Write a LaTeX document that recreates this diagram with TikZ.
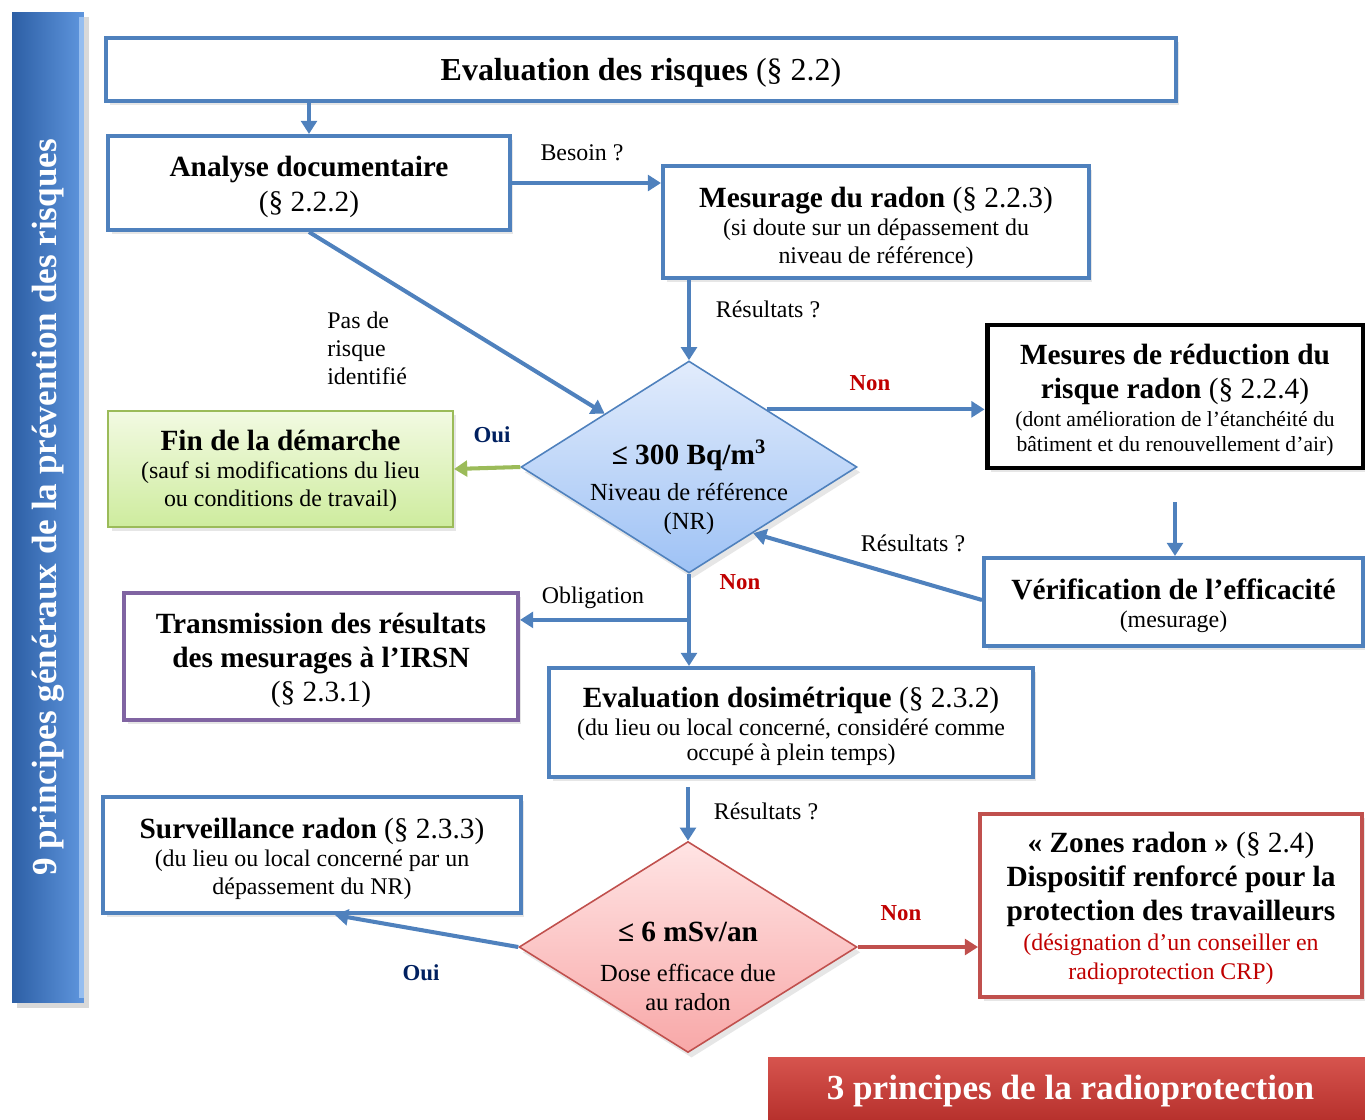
\documentclass[tikz,border=0pt]{standalone}
\usepackage{fontspec}
\setmainfont{Liberation Serif}
\usetikzlibrary{arrows.meta,shapes.geometric,shadows,calc}
\definecolor{bblue}{RGB}{79,129,189}
\definecolor{bgreen}{RGB}{155,187,89}
\definecolor{bpurple}{RGB}{128,100,162}
\definecolor{bred}{RGB}{192,80,77}
\definecolor{nonred}{RGB}{192,0,0}
\definecolor{ouiblue}{RGB}{0,32,96}
\definecolor{banL}{RGB}{45,95,165}
\definecolor{banM}{RGB}{70,125,200}
\definecolor{banR}{RGB}{95,150,222}
\definecolor{banE}{RGB}{150,190,240}
\definecolor{rbanT}{RGB}{214,84,78}
\definecolor{rbanM}{RGB}{200,62,57}
\definecolor{rbanB}{RGB}{180,46,42}
\definecolor{d1top}{RGB}{226,236,252}
\definecolor{d1bot}{RGB}{158,194,245}
\definecolor{d2top}{RGB}{255,228,228}
\definecolor{d2bot}{RGB}{248,168,168}
\definecolor{gtop}{RGB}{242,250,226}
\definecolor{gbot}{RGB}{206,236,158}
\newcommand\szH{\fontsize{18.2}{21}\selectfont}
\newcommand\szT{\fontsize{16.7}{19.5}\selectfont}
\newcommand\szS{\fontsize{13.6}{16}\selectfont}
\newcommand\szD{\fontsize{13.6}{14.3}\selectfont}
\newcommand\szR{\fontsize{12.3}{14.3}\selectfont}
\newcommand\szN{\fontsize{13}{15}\selectfont}
\begin{document}
\begin{tikzpicture}[x=0.02cm,y=-0.02cm,
  bx/.style={draw=bblue,line width=2.3pt,fill=white,inner sep=0pt,
    drop shadow={opacity=0.2,shadow xshift=2pt,shadow yshift=-2pt}},
  tx/.style={align=center,inner sep=0pt},
  arr/.style={draw=bblue,line width=2.3pt,-{Triangle[length=7.5pt,width=9pt]}},
  lbl/.style={font=\szS,inner sep=0pt},
  nonl/.style={font=\szN\bfseries,text=nonred,inner sep=0pt},
  ouil/.style={font=\szN\bfseries,text=ouiblue,inner sep=0pt},
  dia/.style={diamond,inner sep=0pt,line width=0.9pt,
    drop shadow={opacity=0.2,shadow xshift=2pt,shadow yshift=-3pt}}]
\useasboundingbox (0,0) rectangle (1365,1119);

% banners
\node[draw=none,inner sep=0pt,minimum width=1.44cm,minimum height=19.82cm,
  left color=banL,middle color=banM,right color=banR,
  drop shadow={opacity=0.3,shadow xshift=3pt,shadow yshift=-3pt}] (lban) at (48,507.5) {};
\fill[banE] ($(lban.north east)+(-5,5)$) rectangle ($(lban.south east)+(0,-5)$);
\node[rotate=90,text=white,font=\fontsize{20}{24}\selectfont\bfseries] (lbant) at (lban.center)
  {9 principes généraux de la prévention des risques};
\node[draw=none,inner sep=0pt,minimum width=12.14cm,minimum height=1.36cm,
  top color=rbanT,middle color=rbanM,bottom color=rbanB] (bban) at (1071.5,1091) {};
\node[text=white,font=\fontsize{20}{24}\selectfont\bfseries,inner sep=0pt] (bbant) at (1070.5,1091)
  {3 principes de la radioprotection};

% boxes
\node[bx,minimum width=21.4cm,minimum height=1.26cm] (risk) at (641,69.5) {};
\node[tx,font=\szH] (riskt) at ($(risk.center)+(0,3)$) {\textbf{Evaluation des risques} (§ 2.2)};

\node[bx,minimum width=8.04cm,minimum height=1.88cm] (ana) at (309,183) {};
\node[tx,font=\szT] (anat) at ($(ana.center)+(0,4)$) {\textbf{Analyse documentaire}\\(§ 2.2.2)};

\node[bx,minimum width=8.52cm,minimum height=2.24cm] (mes) at (876,222) {};
\node[tx,font=\szS] (mest) at ($(mes.center)+(0,6)$)
  {{\szT\textbf{Mesurage du radon} (§ 2.2.3)}\\(si doute sur un dépassement du\\niveau de référence)};

\node[bx,draw=black,line width=2.8pt,minimum width=7.52cm,minimum height=2.86cm] (red) at (1175,396.5) {};
\node[tx,font=\szR] (redt) at ($(red.center)+(0,3.5)$)
  {{\szT\textbf{Mesures de réduction du}}\\[5.5pt]{\szT\textbf{risque radon} (§ 2.2.4)}\\[1.5pt](dont amélioration de l’étanchéité du\\bâtiment et du renouvellement d’air)};

\node[bx,draw=bgreen,line width=1.2pt,top color=gtop,bottom color=gbot,
  minimum width=6.9cm,minimum height=2.32cm] (fin) at (280.5,469) {};
\node[tx,font=\szS] (fint) at ($(fin.center)+(0,2)$)
  {{\szT\textbf{Fin de la démarche}}\\(sauf si modifications du lieu\\ou conditions de travail)};

\node[bx,minimum width=7.58cm,minimum height=1.76cm] (ver) at (1173.5,602) {};
\node[tx,font=\szS] (vert) at ($(ver.center)+(0,4)$)
  {{\szT\textbf{Vérification de l’efficacité}}\\(mesurage)};

\node[bx,draw=bpurple,minimum width=7.88cm,minimum height=2.54cm] (tra) at (321,656.5) {};
\node[tx,font=\szT] (trat) at ($(tra.center)+(0,4)$)
  {\textbf{Transmission des résultats}\\\textbf{des mesurages à l’IRSN}\\(§ 2.3.1)};

\node[bx,minimum width=9.68cm,minimum height=2.18cm] (dos) at (791,722.5) {};
\node[tx,font=\szD] (dost) at ($(dos.center)+(0,4)$)
  {{\szT\textbf{Evaluation dosimétrique} (§ 2.3.2)}\\[1.5pt](du lieu ou local concerné, considéré comme\\occupé à plein temps)};

\node[bx,minimum width=8.36cm,minimum height=2.32cm] (sur) at (312,855) {};
\node[tx,font=\szS] (surt) at ($(sur.center)+(0,4)$)
  {{\szT\textbf{Surveillance radon} (§ 2.3.3)}\\(du lieu ou local concerné par un\\dépassement du NR)};

\node[bx,draw=bred,minimum width=7.64cm,minimum height=3.66cm] (zon) at (1171,905.5) {};
\node[tx,font=\szS] (zont) at ($(zon.center)+(0,2.5)$)
  {{\szT\textbf{« Zones radon »} (§ 2.4)}\\[3.3pt]{\szT\textbf{Dispositif renforcé pour la}}\\[3.3pt]{\szT\textbf{protection des travailleurs}}\\[1.6pt]
   {\color{nonred}(désignation d’un conseiller en}\\{\color{nonred}radioprotection CRP)}};

% diamonds
\node[dia,draw=bblue,top color=d1top,bottom color=d1bot,
  minimum width=6.72cm,minimum height=4.24cm] (d1) at (689,467) {};
\node[tx,font=\fontsize{14}{16.5}\selectfont] (d1t) at ($(d1.center)+(0,20)$)
  {{\fontsize{16.7}{19.5}\selectfont\textbf{≤ 300 Bq/m\textsuperscript{3}}}\\[4pt]Niveau de référence\\(NR)};
\node[dia,draw=bred,top color=d2top,bottom color=d2bot,
  minimum width=6.76cm,minimum height=4.22cm] (d2) at (688,947) {};
\node[tx,font=\fontsize{14}{16.5}\selectfont] (d2t) at ($(d2.center)+(0,19.5)$)
  {{\fontsize{16.7}{19.5}\selectfont\textbf{≤ 6 mSv/an}}\\[6pt]Dose efficace due\\au radon};

% connectors
\draw[arr] (risk.south -| ana.north) -- (ana.north);
\draw[arr] (ana.east) -- (ana.east -| mes.west);
\draw[arr] (ana.south) -- (d1.north west);
\draw[arr] (mes.south -| d1.north) -- (d1.north);
\coordinate (p1) at ($(d1.north)!0.46!(d1.east)$);
\draw[arr] (p1) -- (p1 -| red.west);
\draw[arr,draw=bgreen] (d1.west) -- (fin.east);
\coordinate (p2) at ($(red.south)+(0,32)$);
\draw[arr] (p2) -- (p2 |- ver.north);
\coordinate (p3) at ($(d1.east)!0.62!(d1.south)$);
\draw[arr] ($(ver.west)+(0,-2)$) -- (p3);
\draw[arr] (d1.south) -- (d1.south |- dos.north);
\coordinate (br) at ($(d1.south)!0.5!(d1.south |- dos.north)$);
\draw[arr] (br) -- (br -| tra.east);
\coordinate (p4) at ($(d2.north |- dos.south)+(0,8)$);
\draw[arr] (p4) -- (d2.north);
\draw[arr] (d2.west) -- ($(sur.south)+(23,0)$);
\draw[arr,draw=bred] (d2.east) -- (d2.east -| zon.west);

% labels
\node[lbl] (l1) at (582,153) {Besoin ?};
\node[lbl,align=left,anchor=west] (l2) at (327,348) {Pas de\\risque\\identifié};
\node[lbl] (l3) at (768,309) {Résultats ?};
\node[nonl] (l4) at (870,383) {Non};
\node[ouil] (l5) at (492,435) {Oui};
\node[lbl] (l6) at (913,543) {Résultats ?};
\node[nonl] (l7) at (740,582) {Non};
\node[lbl] (l8) at (593,598) {Obligation};
\node[lbl] (l9) at (766,811) {Résultats ?};
\node[ouil] (l10) at (421,973) {Oui};
\node[nonl] (l11) at (901,913) {Non};
\end{tikzpicture}
\end{document}
